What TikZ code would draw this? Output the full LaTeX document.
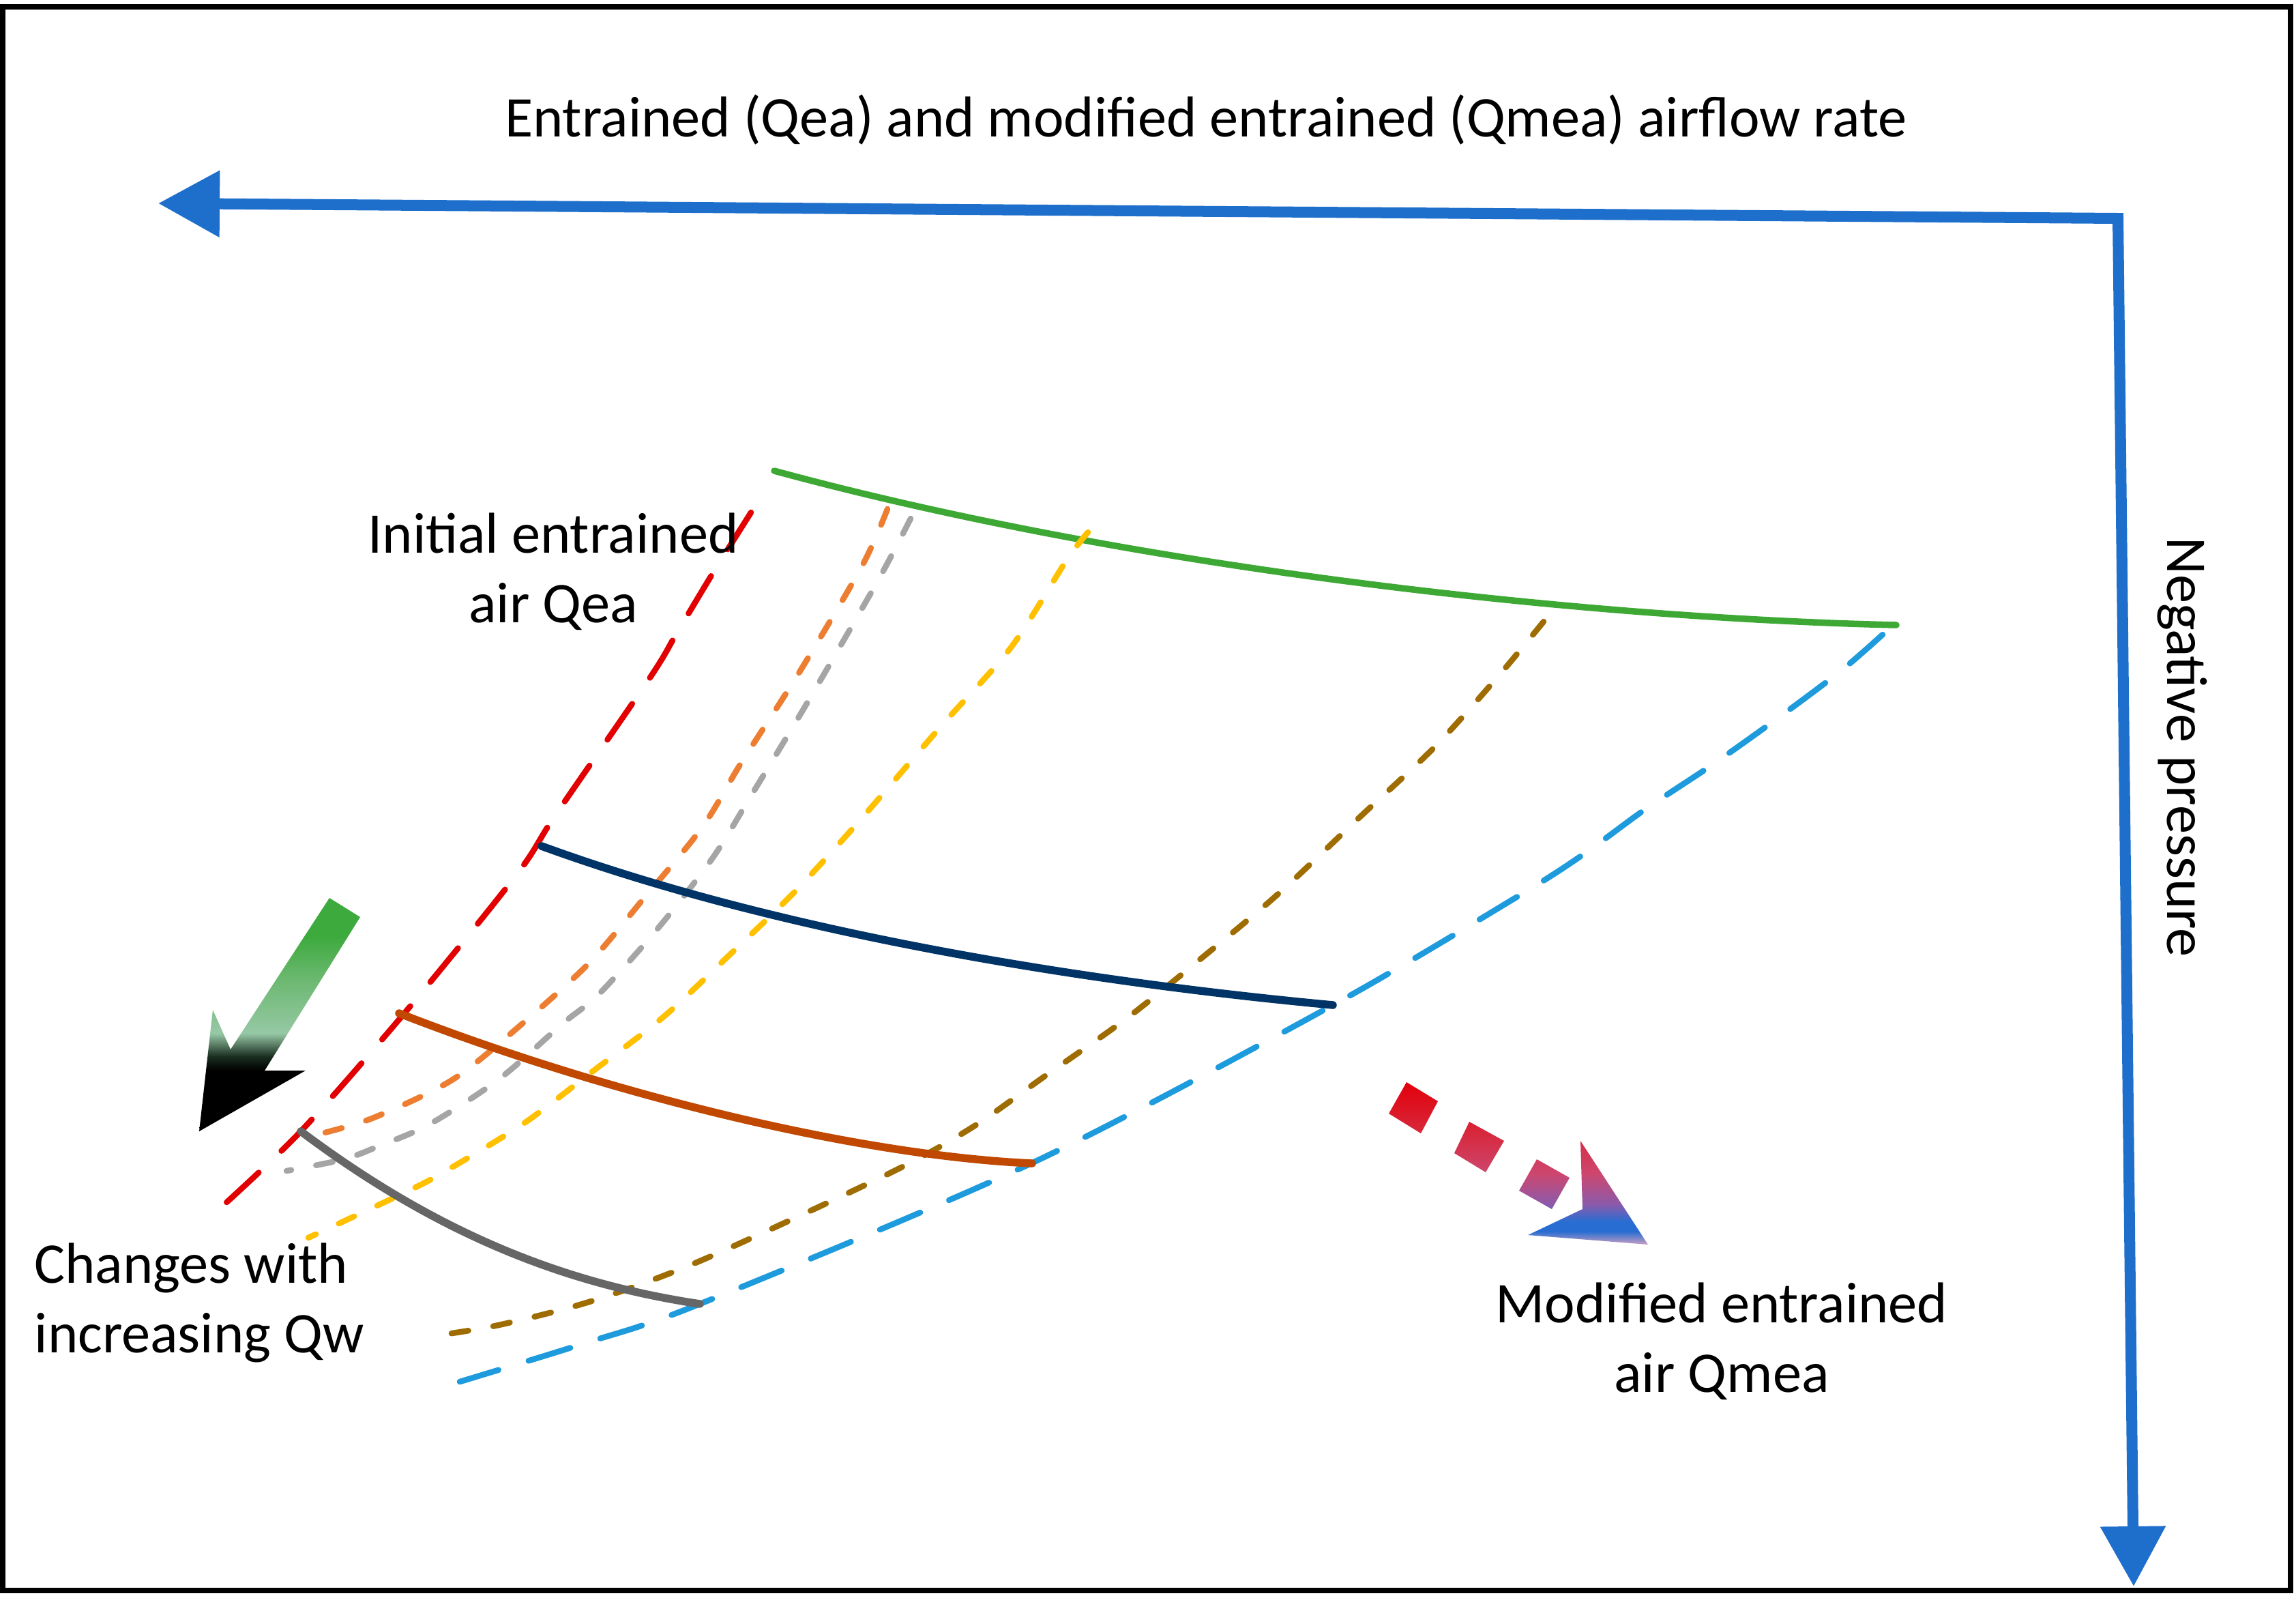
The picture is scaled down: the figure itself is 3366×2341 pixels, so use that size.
\documentclass[tikz,border=0pt]{standalone}
\usepackage{fontspec}
\setmainfont{Carlito}
\usetikzlibrary{arrows.meta, positioning}

\definecolor{axisblue}{RGB}{30,111,204}
\definecolor{topgreen}{RGB}{62,168,52}
\definecolor{qeared}{RGB}{226,0,0}
\definecolor{dorange}{RGB}{237,125,49}
\definecolor{dgray}{RGB}{165,165,165}
\definecolor{dyellow}{RGB}{255,192,0}
\definecolor{dbrown}{RGB}{158,108,0}
\definecolor{qmeablue}{RGB}{30,155,220}
\definecolor{qwnavy}{RGB}{0,51,102}
\definecolor{qwrust}{RGB}{192,72,0}
\definecolor{qwgray}{RGB}{102,102,102}

\definecolor{gfgreen}{RGB}{60,170,60}
\definecolor{gfmid}{RGB}{110,185,115}
\definecolor{gfpale}{RGB}{150,200,165}
\definecolor{gfdeep}{RGB}{25,45,32}
\definecolor{rbpink}{RGB}{205,160,195}
\definecolor{rbblue}{RGB}{40,110,210}
\definecolor{rbpurple}{RGB}{140,90,170}
\definecolor{rbrose}{RGB}{205,70,110}
\definecolor{rbred}{RGB}{215,40,60}
\definecolor{rbtop}{RGB}{226,0,10}

\pgfdeclareverticalshading{greenfade}{100bp}{color(0bp)=(black); color(25bp)=(black); color(38bp)=(black); color(41bp)=(gfdeep); color(46bp)=(gfpale); color(57bp)=(gfmid); color(67bp)=(gfgreen); color(100bp)=(gfgreen)}
\pgfdeclareverticalshading{redblue}{100bp}{color(0bp)=(rbpink); color(25bp)=(rbpink); color(29bp)=(rbblue); color(32bp)=(rbblue); color(37.5bp)=(rbpurple); color(47bp)=(rbrose); color(59.5bp)=(rbred); color(75bp)=(rbtop); color(100bp)=(rbtop)}

\begin{document}
\begin{tikzpicture}[x=0.01cm, y=-0.01cm, line cap=round, line join=round,
  every node/.style={font=\fontsize{24}{28.9}\selectfont, inner sep=0pt}]
\tikzstyle{axis} = [draw=axisblue, line width=0.16cm, line cap=butt, line join=miter,
  {Triangle[length=0.9cm, width=0.94cm]}-{Triangle[length=0.88cm, width=0.92cm]}]
\tikzstyle{longdash} = [line width=0.085cm, dash pattern=on 0.64cm off 0.46cm]
\tikzstyle{shortdash} = [line width=0.085cm, dash pattern=on 0.25cm off 0.37cm]
\tikzstyle{qwcurve} = [line width=0.115cm]

\useasboundingbox (0,0) rectangle (3366,2341);
\fill[white] (0,0) rectangle (3366,2341);
\draw[line width=0.08cm, line cap=butt, line join=miter] (4,10) rectangle (3358,2331);

% Axes
\coordinate (xtip) at (232,298);
\coordinate (origin) at (3105,320);
\coordinate (ytip) at (3128,2325);
\draw[axis] (xtip) -- (origin) -- (ytip);

\node[anchor=base] (title) at (1768,200) {Entrained (Qea) and modified entrained (Qmea) airflow rate};
\node[anchor=base, rotate=-90] (negp) at (3177,1095) {Negative pressure};

% Curves
\draw[topgreen, line width=0.095cm] (1135,690) .. controls (1650,830) and (2300,905) .. (2780,916);

\draw[qeared, longdash] plot[smooth] coordinates {(1101,751) (1042,845) (991,930) (953,993) (814,1195) (758,1281) (597,1480) (441,1658) (318,1775)};
\draw[dorange, shortdash] plot[smooth] coordinates {(1301,746) (1264,829) (1172,985) (1086,1119) (1029,1213) (941,1320) (862,1413) (766,1500) (664,1582) (548,1638) (468,1662)};
\draw[dgray, shortdash] plot[smooth] coordinates {(1335,760) (1287,851) (1184,1029) (1103,1163) (1045,1257) (965,1360) (878,1457) (825,1500) (731,1582) (629,1648) (557,1679) (504,1699) (420,1716)};
\draw[dyellow, shortdash] plot[smooth] coordinates {(1595,780) (1563,822) (1482,949) (1379,1065) (1260,1203) (1165,1307) (1069,1400) (973,1490) (869,1570) (767,1647) (652,1717) (595,1747) (452,1814)};
\draw[dbrown, shortdash] plot[smooth] coordinates {(2263,911) (2194,994) (2102,1096) (1994,1197) (1874,1310) (1763,1403) (1651,1493) (1532,1577) (1424,1653) (1303,1720) (1031,1846) (870,1906) (731,1942) (629,1959)};
\draw[qmeablue, longdash] plot[smooth] coordinates {(2760,930) (2699,983) (2607,1052) (2510,1121) (2412,1186) (2320,1253) (2223,1315) (1954,1473) (1516,1703) (1026,1911) (856,1969) (674,2025)};

% Qw lines
\coordinate (n1) at (794,1240);
\coordinate (n2) at (1954,1473);
\coordinate (r1) at (585,1485);
\coordinate (r2) at (1513,1705);
\coordinate (g1) at (441,1658);
\coordinate (g2) at (1026,1911);
\draw[qwnavy, qwcurve] (n1) .. controls (1150,1370) and (1600,1440) .. (n2);
\draw[qwrust, qwcurve] (r1) .. controls (880,1600) and (1250,1693) .. (r2);
\draw[qwgray, qwcurve] (g1) .. controls (641,1808) and (826,1881) .. (g2);

% Block arrows
\shade[shading=greenfade] (292,1658) -- (312,1480) -- (338,1538) -- (483,1316) -- (528,1344)
  -- (388,1569) -- (448,1569) -- cycle;
\shade[shading=redblue] (2062,1586) -- (2108,1614) -- (2083,1661) -- (2036,1632) -- cycle
  (2154,1644) -- (2205,1672) -- (2178,1718) -- (2132,1690) -- cycle
  (2253,1699) -- (2301,1726) -- (2275,1772) -- (2227,1745) -- cycle
  (2317,1672) -- (2416,1824) -- (2240,1810) -- (2320,1772) -- cycle;

% Labels
\node[anchor=base, align=center] (initlab) at (811,912) {Initial entrained\\air Qea};
\node[anchor=base west, align=left] (qwlab) at (50,1982) {Changes with\\increasing Qw};
\node[anchor=base, align=center] (modlab) at (2524,2040) {Modified entrained\\air Qmea};

\end{tikzpicture}
\end{document}
